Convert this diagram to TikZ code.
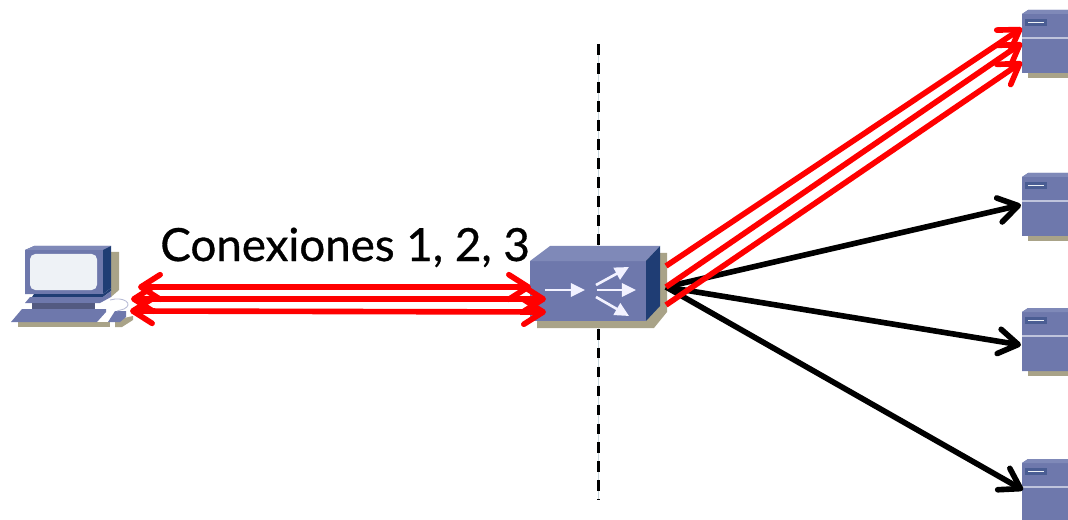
\documentclass[tikz,border=0pt]{standalone}
\usepackage{fontspec}
\newfontfamily\lblfont[FakeBold=0.7]{Lato}
\usetikzlibrary{arrows.meta}
\definecolor{faceblue}{HTML}{6E78AC}
\definecolor{topblue}{HTML}{7F89B8}
\definecolor{sideblue}{HTML}{1F3D74}
\definecolor{shadowtan}{HTML}{A9A388}
\definecolor{screenwhite}{HTML}{EEF2F6}
\tikzset{
    redline/.style={line width=3.2pt, red},
    blackline/.style={line width=3.2pt, black},
    tipone/.style={-{Straight Barb[length=11pt,width=14pt,line width=3.2pt,round]}},
    tipboth/.style={{Straight Barb[length=11pt,width=14pt,line width=3.2pt,round]}-{Straight Barb[length=11pt,width=14pt,line width=3.2pt,round]}},
    whitearrow/.style={-{Triangle[length=8pt,width=7.5pt]}, line width=1.5pt, white!95!blue},
    serverbox/.pic={
        \fill[shadowtan] (6,0) rectangle (46,68);
        \fill[faceblue] (0,4) -- (6,0) -- (46,0) -- (46,63) -- (0,63) -- cycle;
        \fill[topblue] (0,4) -- (6,0) -- (46,0) -- (46,4) -- cycle;
        \draw[line width=0.7pt, topblue!50!white] (0,28) -- (46,28);
        \fill[sideblue!45!faceblue] (3,9) rectangle (25,16);
        \draw[line width=0.8pt, screenwhite] (6,12.5) -- (22,12.5);
    }
}
\begin{document}
\begin{tikzpicture}[x=0.02cm, y=-0.02cm]
    \useasboundingbox (0,0) rectangle (1068,520);
    % boundary
    \coordinate (T) at (598,44);
    \coordinate (U) at (598,500);
    \draw[line width=0.4pt, cyan!25!gray!40] (T) -- (U);
    \draw[line width=1.7pt, dash pattern=on 6.2pt off 4.6pt, black] (T) -- (U);

    % computer
    \fill[shadowtan] (111,252) -- (119,252) -- (119,290) -- (111,297) -- cycle;
    \fill[shadowtan] (18,322) rectangle (110,327);
    \fill[shadowtan] (115,320) -- (133,316) -- (133,320) -- (122,327) -- (115,327) -- cycle;
    \fill[faceblue] (25,250) -- (34,246) -- (111,246) -- (103,253) -- (103,294) -- (25,294) -- cycle;
    \fill[topblue] (25,250) -- (34,246) -- (111,246) -- (103,250) -- cycle;
    \fill[sideblue] (103,250) -- (111,246) -- (111,288) -- (103,294) -- cycle;
    \fill[screenwhite, rounded corners=3pt] (30,254) rectangle (97,290);
    \fill[sideblue] (34,294) -- (103,294) -- (111,288) -- (111,291) -- (103,297) -- (32,297) -- cycle;
    \fill[faceblue] (25,303) -- (30,297) -- (103,297) -- (111,291) -- (111,297) -- (100,303) -- cycle;
    \fill[faceblue!75!black] (32,303) rectangle (95,309);
    \fill[faceblue] (11,322) -- (22,309) -- (106,309) -- (106,312) -- (97,322) -- cycle;
    \fill[faceblue] (108,322) -- (115,311) -- (126,311) -- (126,317) -- (120,322) -- cycle;
    \draw[line width=0.5pt, faceblue!50!white] (110,300) .. controls (124,296) and (134,304) .. (124,309) -- (117,311);

    % router
    \fill[shadowtan] (537,318) -- (537,328) -- (654,328) -- (667,312) -- (667,253) -- (655,253) -- cycle;
    \fill[faceblue] (530,261) rectangle (646,321);
    \fill[topblue] (530,261) -- (550,246) -- (660,246) -- (646,261) -- cycle;
    \fill[sideblue] (646,261) -- (660,246) -- (660,306) -- (646,321) -- cycle;
    \coordinate (Ra) at (545,290);
    \coordinate (Rb) at (585,290);
    \coordinate (Rc) at (596,285);
    \coordinate (Rd) at (629,267);
    \coordinate (Re) at (597,290);
    \coordinate (Rf) at (636,290);
    \coordinate (Rg) at (596,297);
    \coordinate (Rh) at (629,316);
    \draw[whitearrow] (Ra) -- (Rb);
    \draw[whitearrow] (Rc) -- (Rd);
    \draw[whitearrow] (Re) -- (Rf);
    \draw[whitearrow] (Rg) -- (Rh);

    % servers
    \pic at (1022,10) {serverbox};
    \pic at (1022,173) {serverbox};
    \pic at (1022,308) {serverbox};
    \pic at (1022,459) {serverbox};

    % connections
    \coordinate (A1) at (138,287);
    \coordinate (B1) at (531,287);
    \coordinate (A2) at (131,299);
    \coordinate (B2) at (546,299);
    \coordinate (A3) at (130,311);
    \coordinate (B3) at (546,312);
    \draw[redline, tipboth] (A1) -- (B1);
    \draw[redline, tipboth] (A2) -- (B2);
    \draw[redline, tipboth] (A3) -- (B3);

    \coordinate (O) at (666,287);
    \coordinate (S2) at (1021,205);
    \coordinate (S3) at (1021,345);
    \coordinate (S4) at (1023,490);
    \draw[blackline, tipone] (O) -- (S2);
    \draw[blackline, tipone] (O) -- (S3);
    \draw[blackline, tipone] (O) -- (S4);

    \coordinate (C1) at (666,266);
    \coordinate (C2) at (666,287);
    \coordinate (C3) at (666,305);
    \coordinate (D1) at (1022,28);
    \coordinate (D2) at (1022,43);
    \coordinate (D3) at (1022,62);
    \draw[redline, tipone] (C1) -- (D1);
    \draw[redline, tipone] (C2) -- (D2);
    \draw[redline, tipone] (C3) -- (D3);

    \node[anchor=base west, inner sep=0pt, font=\lblfont\fontsize{26pt}{26pt}\selectfont] (lbl) at (160,261) {Conexiones 1, 2, 3};
\end{tikzpicture}
\end{document}
